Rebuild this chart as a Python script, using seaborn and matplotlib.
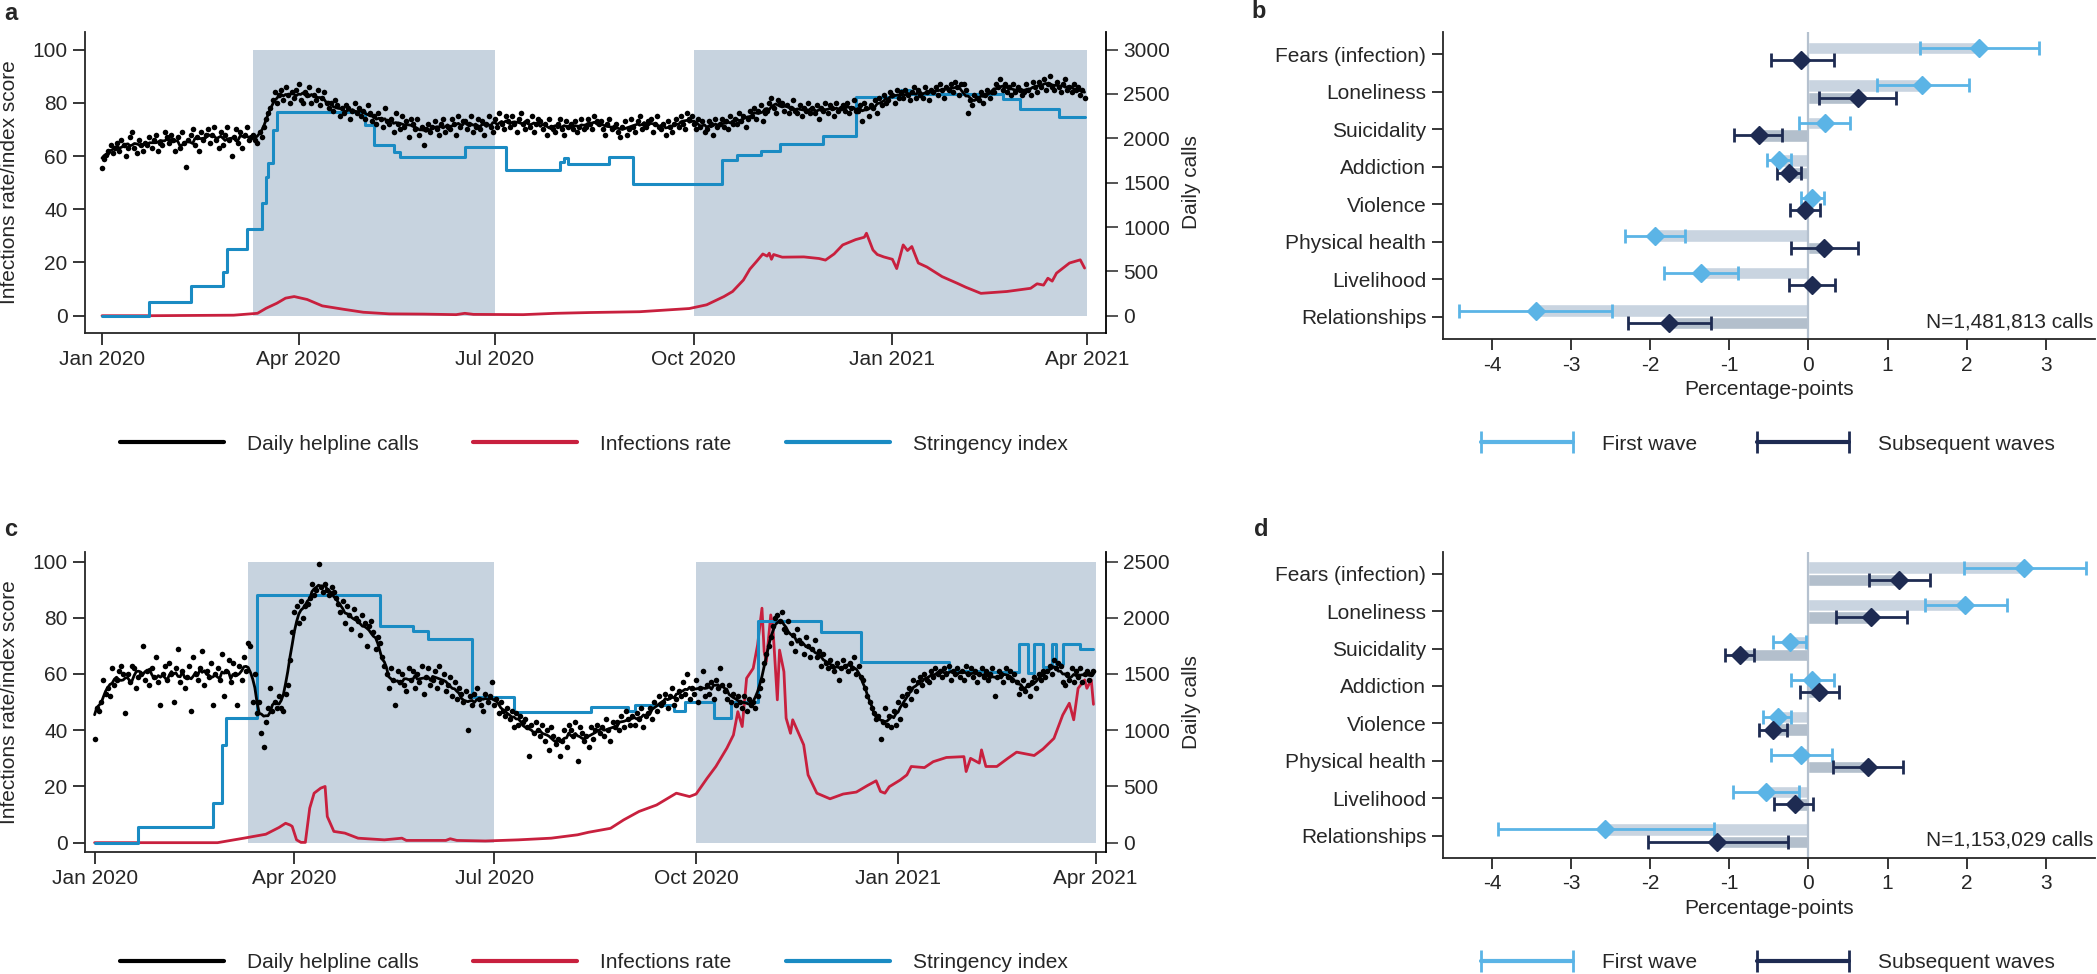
import numpy as np
import pandas as pd
import matplotlib
matplotlib.use("Agg")
import matplotlib.pyplot as plt
import matplotlib.dates as mdates
import matplotlib.transforms as mtransforms
from matplotlib.lines import Line2D
import seaborn as sns

# ---------------- time series panels (a, c) ----------------
# day 0 = 1 Jan 2020, last day = 31 Mar 2021
START = pd.Timestamp("2020-01-01")

# daily helpline calls, read on the index scale (panel a: calls / 30)
calls_a = [
    55.5, 59, 60.5, 62, 64, 61, 63,
    65, 62, 66, 64, 60, 63, 67,
    69, 63, 61, 66, 64, 62, 65,
    64, 67, 63, 66, 68, 62, 65,
    64, 69, 67, 65, 68, 66, 62,
    67, 63, 69, 65, 56, 66, 68,
    70, 64, 67, 62, 69, 66, 68,
    70, 65, 68, 71, 66, 63, 69,
    64, 68, 71, 66, 60, 67, 70,
    65, 69, 63, 68, 71, 66, 67,
    68, 66, 65, 69, 67, 71, 74,
    76, 78, 81, 84, 80, 83, 85,
    81, 86, 83, 80, 84, 82, 85,
    87, 81, 80, 84, 83, 86, 80,
    83, 81, 85, 79, 82, 84, 80,
    78, 80, 77, 81, 79, 75, 78,
    76, 79, 78, 74, 77, 80, 76,
    78, 75, 77, 74, 79, 76, 73,
    75, 72, 76, 74, 71, 78, 73,
    72, 74, 69, 76, 72, 70, 75,
    71, 73, 67, 74, 72, 70, 74,
    68, 71, 64, 70, 72, 69, 71,
    73, 70, 68, 72, 74, 69, 71,
    70, 74, 72, 68, 75, 71, 73,
    73, 70, 72, 75, 69, 71, 74,
    70, 73, 68, 72, 75, 71, 69,
    74, 71, 76, 72, 70, 75, 73,
    71, 75, 72, 69, 74, 76, 72,
    70, 73, 71, 75, 69, 72, 74,
    73, 70, 72, 68, 74, 71, 70,
    69, 72, 74, 70, 68, 73, 71,
    72, 70, 73, 69, 71, 74, 70,
    71, 74, 72, 70, 75, 73, 72,
    73, 70, 68, 72, 74, 70, 71,
    72, 69, 67, 71, 73, 68, 70,
    74, 71, 69, 73, 75, 70, 72,
    71, 73, 74, 69, 72, 75, 71,
    70, 72, 68, 73, 71, 69, 72,
    74, 71, 75, 72, 70, 76, 74,
    75, 72, 70, 74, 71, 73, 69,
    70, 73, 72, 68, 74, 71, 72,
    74, 71, 73, 70, 75, 72, 74,
    72, 76, 73, 75, 71, 74, 77,
    75, 78, 74, 77, 79, 73, 76,
    77, 80, 82, 78, 76, 81, 80,
    80, 77, 79, 76, 78, 81, 77,
    76, 79, 75, 78, 77, 80, 76,
    78, 76, 79, 74, 78, 77, 80,
    76, 79, 78, 75, 80, 77, 78,
    79, 77, 80, 76, 78, 81, 77,
    77, 79, 73, 80, 78, 75, 79,
    78, 81, 76, 82, 79, 83, 80,
    81, 84, 83, 80, 85, 82, 84,
    82, 85, 83, 81, 84, 86, 82,
    85, 83, 82, 86, 84, 81, 85,
    84, 86, 83, 87, 85, 82, 86,
    85, 87, 84, 88, 86, 83, 87,
    87, 85, 76, 81, 79, 83, 82,
    81, 84, 80, 83, 85, 82, 84,
    84, 87, 86, 89, 85, 87, 84,
    86, 83, 87, 84, 86, 85, 83,
    84, 87, 85, 83, 88, 86, 84,
    88, 86, 89, 85, 87, 90, 86,
    85, 88, 86, 84, 87, 89, 85,
    86, 84, 87, 85, 86, 83, 85,
    82,
]

# daily helpline calls, index scale (panel c: calls / 25)
calls_c = [
    37, 48, 47, 50, 58, 53, 55,
    52, 62, 56, 58, 61, 63, 60,
    46, 60, 57, 63, 62, 55, 59,
    60, 70, 58, 61, 56, 62, 59,
    66, 57, 49, 60, 63, 58, 64,
    60, 50, 62, 69, 57, 61, 55,
    59, 63, 47, 66, 60, 58, 62,
    68, 56, 61, 59, 64, 49, 60,
    62, 58, 67, 52, 61, 65, 57,
    64, 60, 49, 63, 58, 66, 61,
    71, 70, 50, 60, 46, 50, 39,
    34, 43, 48, 55, 47, 50, 48,
    52, 48, 47, 53, 56, 65, 75,
    82, 84, 78, 86, 80, 84, 85,
    87, 92, 88, 90, 99, 91, 89,
    92, 90, 88, 91, 89, 87, 85,
    82, 86, 78, 84, 81, 76, 83,
    80, 79, 74, 81, 78, 70, 77,
    79, 75, 69, 73, 71, 66, 63,
    60, 55, 62, 58, 49, 61, 57,
    60, 56, 54, 62, 58, 61, 55,
    60, 57, 63, 53, 59, 62, 56,
    58, 61, 55, 63, 57, 60, 54,
    56, 59, 52, 57, 51, 55, 53,
    50, 54, 40, 52, 49, 53, 55,
    51, 49, 47, 53, 50, 52, 57,
    49, 51, 46, 50, 47, 45, 48,
    44, 47, 41, 46, 42, 45, 43,
    44, 41, 31, 42, 39, 43, 40,
    38, 42, 36, 40, 33, 41, 38,
    35, 37, 31, 36, 40, 34, 42,
    40, 38, 43, 29, 41, 39, 36,
    38, 34, 41, 37, 40, 42, 39,
    41, 38, 44, 40, 36, 43, 41,
    43, 40, 45, 41, 47, 44, 42,
    45, 42, 46, 44, 48, 41, 45,
    46, 48, 44, 50, 47, 52, 49,
    50, 53, 48, 52, 55, 49, 51,
    54, 52, 57, 53, 60, 51, 55,
    53, 58, 50, 55, 61, 52, 56,
    53, 57, 51, 58, 55, 62, 56,
    54, 51, 56, 50, 53, 49, 52,
    50, 48, 52, 47, 51, 49, 50,
    48, 52, 55, 58, 64, 67, 70,
    73, 77, 80, 81, 79, 82, 76,
    75, 79, 71, 74, 68, 76, 72,
    71, 67, 73, 70, 66, 69, 72,
    66, 68, 63, 67, 64, 62, 65,
    63, 61, 64, 58, 62, 65, 63,
    61, 64, 62, 66, 60, 63, 59,
    58, 55, 52, 50, 48, 46, 44,
    45, 37, 43, 48, 42, 45, 41,
    47, 42, 50, 44, 52, 49, 53,
    55, 51, 58, 54, 57, 59, 56,
    60, 58, 57, 61, 59, 62, 60,
    61, 59, 62, 60, 63, 58, 61,
    60, 62, 59, 61, 58, 63, 60,
    62, 59, 61, 57, 60, 62, 59,
    61, 58, 60, 62, 52, 59, 61,
    60, 57, 62, 59, 61, 58, 60,
    57, 53, 55, 58, 54, 56, 52,
    57, 59, 55, 60, 58, 61, 59,
    61, 63, 60, 65, 62, 64, 63,
    57, 56, 60, 58, 62, 57, 61,
    59, 62, 57, 60, 61, 58, 60,
    61,
]

# stringency index: day it changes -> new level
str_a_day = [0, 22, 41, 56, 58, 67, 74, 76, 77, 79, 81, 122, 126, 135, 138, 168,
             187, 212, 214, 216, 235, 246, 287, 294, 305, 314, 334, 349, 370, 374,
             417, 425, 443, 455]
str_a_val = [0, 5.3, 11.1, 16.6, 25.0, 32.7, 42.2, 52.2, 57.3, 69.8, 76.7, 71.6, 64.1,
             61.6, 59.5, 63.3, 54.7, 57.7, 59.4, 57.0, 59.6, 49.4, 58.6, 60.4, 61.8,
             64.6, 67.5, 82.3, 84.8, 83.2, 81.4, 77.7, 74.8, 74.8]

str_c_day = [0, 20, 54, 58, 60, 74, 130, 145, 152, 172, 191, 226, 243, 246, 264,
             269, 282, 290, 302, 331, 349, 389, 405, 421, 425, 428, 432, 436, 438,
             441, 449, 455]
str_c_val = [0, 5.7, 14.0, 34.8, 44.3, 88.1, 77.1, 75.3, 72.3, 51.9, 46.6, 48.2,
             47.0, 49.0, 47.0, 49.9, 44.3, 49.9, 78.9, 75.1, 64.2, 61.1, 60.6, 70.6,
             60.5, 70.6, 62.6, 70.6, 63.5, 70.6, 68.8, 68.8]

# infections rate
inf_a_day = [0, 22, 61, 72, 76, 81, 85, 89, 95, 102, 112, 121, 133, 149, 164, 168,
             172, 195, 210, 226, 249, 272, 280, 288, 292, 297, 300, 303, 306, 308,
             309, 310, 311, 315, 325, 332, 335, 339, 343, 349, 353, 354, 357, 359,
             362, 366, 368, 371, 373, 375, 378, 382, 389, 396, 400, 407, 419, 430,
             433, 436, 438, 440, 442, 448, 453, 455]
inf_a_val = [0, 0, 0.2, 0.9, 2.8, 4.7, 6.6, 7.2, 6.1, 3.7, 2.4, 1.3, 0.7, 0.6, 0.4,
             0.9, 0.5, 0.4, 0.9, 1.2, 1.5, 2.7, 4.1, 7.2, 9.1, 13.4, 17.5, 20.3,
             23.2, 22.4, 23.5, 21.2, 23.0, 22.0, 22.1, 21.5, 20.9, 23.2, 26.6, 28.6,
             29.5, 31.0, 24.7, 23.0, 22.1, 21.2, 17.7, 26.6, 24.5, 26.0, 19.8, 18.3,
             14.7, 12.2, 10.7, 8.4, 9.1, 10.3, 12.0, 11.5, 14.1, 13.0, 16.0, 19.8,
             21.0, 17.9]

inf_c_day = [0, 20, 56, 68, 78, 84, 87, 89, 90, 92, 94, 96, 98, 100, 103, 105, 106,
             109, 114, 120, 132, 140, 142, 160, 162, 165, 178, 193, 208, 220, 225,
             235, 241, 248, 256, 265, 271, 274, 279, 283, 288, 291, 293, 295, 297,
             300, 302, 304, 305, 306, 308, 309, 311, 312, 314, 315, 317, 318, 323,
             325, 329, 335, 341, 347, 352, 356, 358, 360, 362, 367, 370, 372, 378,
             382, 388, 396, 397, 399, 403, 404, 406, 411, 416, 420, 428, 432, 437,
             441, 444, 446, 448, 451, 452, 454, 455]
inf_c_val = [0, 0, 0, 1.6, 3.0, 5.4, 6.9, 6.3, 5.8, 1.0, 0.1, 0.1, 12.3, 17.6, 19.4,
             20.0, 9.3, 4.0, 3.4, 1.6, 1.0, 1.6, 0.8, 0.8, 1.4, 0.8, 0.6, 1.0, 1.6,
             2.8, 3.7, 5.1, 8.1, 11.1, 13.4, 17.6, 16.4, 17.3, 22.9, 27.1, 33.6,
             38.3, 46.6, 41.3, 58.5, 62.0, 70.3, 83.4, 67.9, 64.4, 81.0, 76.3, 50.8,
             68.5, 60.8, 44.3, 38.9, 43.7, 34.8, 24.1, 17.6, 15.6, 17.3, 18.0, 20.3,
             22.0, 18.2, 17.6, 19.9, 22.3, 24.1, 27.1, 26.7, 28.8, 30.3, 30.6, 25.3,
             30.0, 28.3, 33.0, 27.1, 27.1, 30.0, 32.2, 31.0, 33.3, 37.1, 45.4, 49.6,
             43.7, 54.9, 57.9, 54.9, 57.9, 49.2]

# first wave / subsequent waves periods shaded
waves = [("2020-03-11", "2020-07-01"), ("2020-10-01", "2021-04-01")]

# ---------------- coefficient panels (b, d) ----------------
topics = ["Fears (infection)", "Loneliness", "Suicidality", "Addiction",
          "Violence", "Physical health", "Livelihood", "Relationships"]

b_first_est = [2.16, 1.44, 0.21, -0.37, 0.04, -1.94, -1.36, -3.45]
b_first_lo = [1.41, 0.86, -0.12, -0.53, -0.10, -2.32, -1.83, -4.42]
b_first_hi = [2.91, 2.03, 0.53, -0.22, 0.19, -1.56, -0.89, -2.48]
b_sub_est = [-0.09, 0.62, -0.63, -0.25, -0.04, 0.19, 0.04, -1.76]
b_sub_lo = [-0.48, 0.13, -0.94, -0.40, -0.23, -0.22, -0.25, -2.28]
b_sub_hi = [0.32, 1.11, -0.34, -0.09, 0.14, 0.62, 0.34, -1.23]

d_first_est = [2.73, 1.98, -0.23, 0.05, -0.39, -0.09, -0.54, -2.57]
d_first_lo = [1.97, 1.47, -0.45, -0.22, -0.57, -0.47, -0.95, -3.93]
d_first_hi = [3.51, 2.51, -0.03, 0.32, -0.22, 0.30, -0.12, -1.20]
d_sub_est = [1.15, 0.79, -0.87, 0.13, -0.45, 0.75, -0.17, -1.15]
d_sub_lo = [0.77, 0.35, -1.06, -0.11, -0.62, 0.31, -0.43, -2.03]
d_sub_hi = [1.53, 1.24, -0.69, 0.38, -0.27, 1.20, 0.06, -0.26]

# ---------------- style ----------------
sns.set_theme(style="ticks")
plt.rcParams["font.family"] = ["Liberation Sans", "DejaVu Sans"]
plt.rcParams["axes.unicode_minus"] = False
plt.rcParams["axes.linewidth"] = 1.3

FS = 15
BLACK = "#000000"
RED = "#c8203e"
BLUE = "#1a8bc3"
SHADE = "#c7d3df"
LIGHT = "#5bb4e6"
NAVY = "#1e2b52"
BAR1 = "#c9d4e0"
BAR2 = "#b3bfcc"


def to_dates(day_list):
    return START + pd.to_timedelta(np.asarray(day_list), unit="D")


def series_panel(ax, calls, s_day, s_val, i_day, i_val, ylim, scale, rmax, xpad):
    days = to_dates(range(len(calls)))
    smooth = pd.Series(calls).rolling(7, center=True, min_periods=1).mean()

    for a, b in waves:
        ax.fill_between(pd.to_datetime([a, b]), 0, 100, color=SHADE, lw=0, zorder=0)

    sns.lineplot(x=to_dates(i_day), y=i_val, color=RED, lw=2, ax=ax, zorder=2)
    sns.lineplot(x=to_dates(s_day), y=s_val, color=BLUE, lw=2.2, ax=ax,
                 drawstyle="steps-post", zorder=3)
    sns.scatterplot(x=days, y=calls, color=BLACK, s=16, linewidth=0, ax=ax, zorder=4)
    sns.lineplot(x=days, y=smooth.values, color=BLACK, lw=2, ax=ax, zorder=5)

    ax.set_xlim(pd.Timestamp("2020-01-01") - pd.Timedelta(days=xpad[0]),
                pd.Timestamp("2021-04-01") + pd.Timedelta(days=xpad[1]))
    ax.set_ylim(*ylim)
    ax.set_yticks(range(0, 101, 20))
    ax.xaxis.set_major_locator(mdates.MonthLocator(bymonth=[1, 4, 7, 10]))
    ax.xaxis.set_major_formatter(mdates.DateFormatter("%b %Y"))
    ax.tick_params(axis="both", labelsize=FS, length=8.5, width=1.1, pad=4, color="black")
    ax.set_xlabel("")
    ax.set_ylabel("Infections rate/index score", fontsize=FS)
    ax.yaxis.set_label_coords(-0.0645, 0.5)
    ax.spines["top"].set_visible(False)
    ax.spines["right"].set_visible(False)

    ax2 = ax.twinx()
    ax2.set_ylim(ylim[0] * scale, ylim[1] * scale)
    ax2.set_yticks(range(0, rmax + 1, 500))
    ax2.tick_params(axis="y", labelsize=FS, length=8.5, width=1.1, pad=4)
    ax2.set_ylabel("Daily calls", fontsize=FS)
    ax2.yaxis.set_label_coords(1.075, 0.5)
    for s in ["top", "left", "bottom"]:
        ax2.spines[s].set_visible(False)
    ax2.spines["right"].set_visible(True)
    ax2.spines["right"].set_color("black")


def coef_panel(ax, f_est, f_lo, f_hi, s_est, s_lo, s_hi, n_text):
    df = pd.DataFrame({
        "topic": topics * 2,
        "wave": ["First wave"] * 8 + ["Subsequent waves"] * 8,
        "est": list(f_est) + list(s_est),
    })
    sns.barplot(data=df, x="est", y="topic", hue="wave", order=topics,
                hue_order=["First wave", "Subsequent waves"], palette=[BAR1, BAR2],
                width=0.66, errorbar=None, saturation=1, legend=False, ax=ax, zorder=1)
    ax.axvline(0, color="#b5c1cf", lw=1.6, zorder=2)

    pos = np.arange(len(topics))
    for est, lo, hi, off, col in [(f_est, f_lo, f_hi, -0.165, LIGHT),
                                  (s_est, s_lo, s_hi, 0.165, NAVY)]:
        est = np.asarray(est)
        err = [est - np.asarray(lo), np.asarray(hi) - est]
        ax.errorbar(est, pos + off, xerr=err, fmt="D", color=col, ms=9,
                    elinewidth=2, capsize=5, capthick=2, zorder=3)

    ax.set_xlim(-4.62, 3.62)
    ax.set_ylim(7.59, -0.59)
    ax.set_xticks(range(-4, 4))
    ax.set_xlabel("Percentage-points", fontsize=FS, labelpad=4)
    ax.set_ylabel("")
    ax.tick_params(axis="both", labelsize=FS, length=8, width=1.1, pad=4, color="black")
    ax.spines["top"].set_visible(False)
    ax.spines["right"].set_visible(False)
    trans = mtransforms.blended_transform_factory(ax.transAxes, ax.transData)
    ax.text(0.997, 7.13, n_text, transform=trans, ha="right", va="center", fontsize=FS)


fig = plt.figure(figsize=(20.97, 9.74), dpi=100)

ax_a = fig.add_axes([0.0405, 0.6581, 0.4867, 0.3090])
ax_c = fig.add_axes([0.0405, 0.1256, 0.4867, 0.3080])
ax_b = fig.add_axes([0.6881, 0.6520, 0.3109, 0.3152])
ax_d = fig.add_axes([0.6881, 0.1194, 0.3109, 0.3142])

series_panel(ax_a, calls_a, str_a_day, str_a_val, inf_a_day, inf_a_val,
             (-6.5, 106.6), 30, 3000, (7.9, 8.7))
series_panel(ax_c, calls_c, str_c_day, str_c_val, inf_c_day, inf_c_val,
             (-3.2, 103.5), 25, 2500, (4.4, 4.5))
coef_panel(ax_b, b_first_est, b_first_lo, b_first_hi, b_sub_est, b_sub_lo, b_sub_hi,
           "N=1,481,813 calls")
coef_panel(ax_d, d_first_est, d_first_lo, d_first_hi, d_sub_est, d_sub_lo, d_sub_hi,
           "N=1,153,029 calls")

# legends
line_handles = [Line2D([], [], color=BLACK, lw=3), Line2D([], [], color=RED, lw=3),
                Line2D([], [], color=BLUE, lw=3)]
line_labels = ["Daily helpline calls", "Infections rate", "Stringency index"]
err_handles = [Line2D([], [], color=LIGHT, lw=3, marker="|", ms=16, mew=2),
               Line2D([], [], color=NAVY, lw=3, marker="|", ms=16, mew=2)]
err_labels = ["First wave", "Subsequent waves"]

for yc in [1 - 444 / 974, 1 - 963 / 974]:
    fig.legend(line_handles, line_labels, loc="center", bbox_to_anchor=(594 / 2097, yc),
               ncol=3, frameon=False, fontsize=FS, handlelength=5.0, handletextpad=1.1,
               columnspacing=2.6)
    fig.legend(err_handles, err_labels, loc="center", bbox_to_anchor=(1765 / 2097, yc),
               ncol=2, frameon=False, fontsize=FS, handlelength=5.0, handletextpad=1.1,
               columnspacing=2.6, numpoints=2)

# panel letters
for x, y, t in [(0.002, 1 - 14 / 974, "a"), (0.597, 1 - 12 / 974, "b"),
                (0.002, 1 - 530 / 974, "c"), (0.598, 1 - 529 / 974, "d")]:
    fig.text(x, y, t, fontsize=17, fontweight="bold", va="center", ha="left")

fig.savefig("out.png", dpi=100)
